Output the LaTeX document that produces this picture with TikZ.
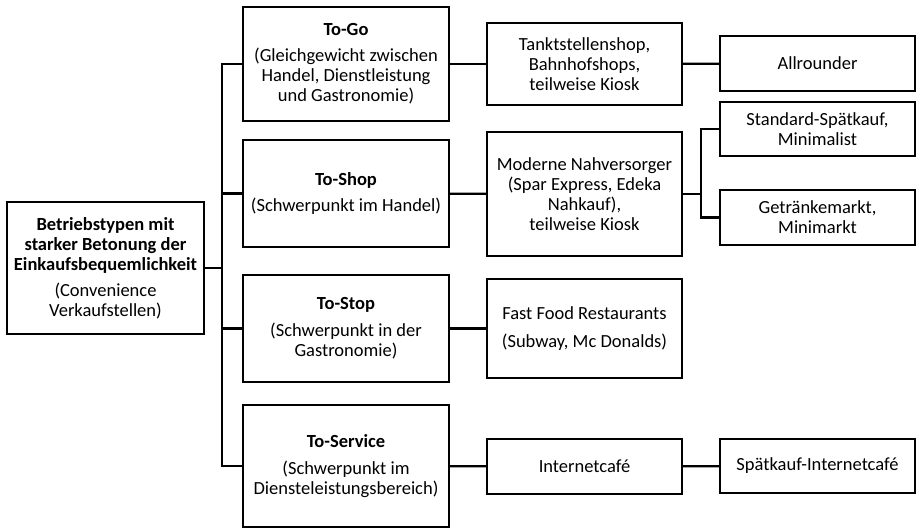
\documentclass[tikz,border=0pt]{standalone}
\usepackage{fontspec}
\setmainfont{Carlito}
\usetikzlibrary{positioning}

\tikzset{
  box/.style={draw, line width=2.2pt, align=center, inner sep=1pt,
    font=\fontsize{18.5}{20}\selectfont},
  link/.style={line width=2.2pt},
}

\begin{document}
\begin{tikzpicture}[x=1pt,y=-1pt]
  \useasboundingbox (0,0) rectangle (917,529);

  % Wurzel
  \node[box, minimum width=197pt, minimum height=132pt] (root) at (105.5,268)
    {\textbf{Betriebstypen mit}\\ \textbf{starker Betonung der}\\ \textbf{Einkaufsbequemlichkeit}\\[6pt] (Convenience\\ Verkaufstellen)};

  % zweite Spalte
  \node[box, minimum width=206pt, minimum height=114pt] (togo) at (346,64)
    {\textbf{To-Go}\\[6pt] (Gleichgewicht zwischen\\ Handel, Dienstleistung\\ und Gastronomie)};
  \node[box, minimum width=206pt, minimum height=107pt] (toshop) at (346,193.5)
    {\textbf{To-Shop}\\[6pt] (Schwerpunkt im Handel)};
  \node[box, minimum width=206pt, minimum height=107pt] (tostop) at (346,328.5)
    {\textbf{To-Stop}\\[7pt] (Schwerpunkt in der\\ Gastronomie)};
  \node[box, minimum width=206pt, minimum height=122pt] (toservice) at (346,466)
    {\textbf{To-Service}\\[7pt] (Schwerpunkt im\\ Diensteleistungsbereich)};

  % dritte Spalte
  \node[box, minimum width=195pt, minimum height=82pt] (tank) at (584.5,64)
    {Tanktstellenshop,\\ Bahnhofshops,\\ teilweise Kiosk};
  \node[box, minimum width=195pt, minimum height=124pt] (nahv) at (584.5,194)
    {Moderne Nahversorger\\ (Spar Express, Edeka\\ Nahkauf),\\ teilweise Kiosk};
  \node[box, minimum width=195pt, minimum height=99pt] (fastfood) at (584.5,328.5)
    {Fast Food Restaurants\\[8pt] (Subway, Mc Donalds)};
  \node[box, minimum width=195pt, minimum height=55pt] (inetcafe) at (584.5,466.5)
    {Internetcaf\'e};

  % vierte Spalte
  \node[box, minimum width=195pt, minimum height=55pt] (allround) at (817.5,63.5)
    {Allrounder};
  \node[box, minimum width=195pt, minimum height=54pt] (standard) at (817.5,129)
    {Standard-Sp\"atkauf,\\ Minimalist};
  \node[box, minimum width=195pt, minimum height=55pt] (getraenke) at (817.5,217.5)
    {Getr\"ankemarkt,\\ Minimarkt};
  \node[box, minimum width=195pt, minimum height=54pt] (spaetinet) at (817.5,466)
    {Sp\"atkauf-Internetcaf\'e};

  % Verbindungen
  \coordinate (trunk) at (222,268);
  \coordinate (subtrunk) at (701,194);
  \draw[link] (root.east) -- (trunk);
  \draw[link] (togo.west) -| (trunk) |- (toservice.west);
  \draw[link] (toshop.west) -- (toshop.west -| trunk);
  \draw[link] (tostop.west) -- (tostop.west -| trunk);

  \draw[link] (togo) -- (tank);
  \draw[link] (toshop) -- (nahv);
  \draw[link] (tostop) -- (fastfood);
  \draw[link] (toservice) -- (inetcafe);

  \draw[link] (tank) -- (allround);
  \draw[link] (nahv.east) -- (subtrunk);
  \draw[link] (standard.west) -| (subtrunk) |- (getraenke.west);
  \draw[link] (inetcafe) -- (spaetinet);
\end{tikzpicture}
\end{document}
